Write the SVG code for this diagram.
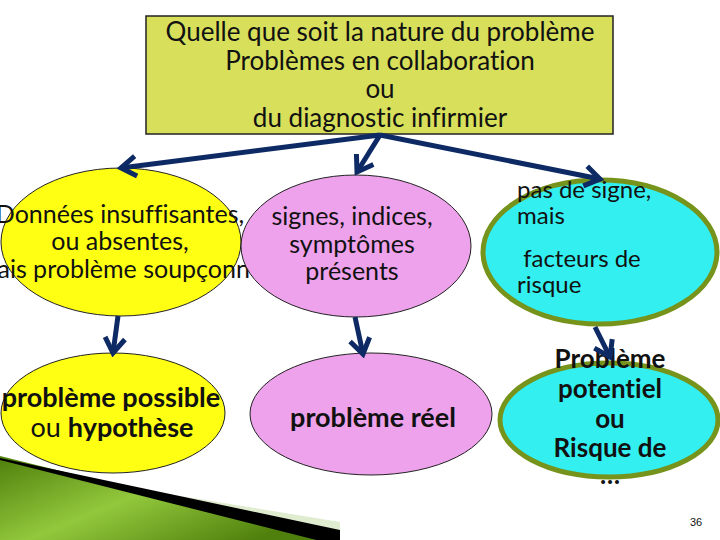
<svg xmlns="http://www.w3.org/2000/svg" width="720" height="540" viewBox="0 0 720 540">
<style>
text{font-family:Lato,"Open Sans","Liberation Sans",sans-serif;fill:#111;font-variant-ligatures:none;}
.t{font-size:26px;text-anchor:middle;}
.m{font-size:25px;text-anchor:middle;}
.l{font-size:24px;}
.b{font-size:27px;font-weight:bold;text-anchor:middle;}
.p{font-size:26px;}
.yel{fill:#ffff14;stroke:#222;stroke-width:1;}
.pnk{fill:#eea2ec;stroke:#222;stroke-width:1;}
.cyn{fill:#33eff0;stroke:#76931c;stroke-width:5;}
.con{stroke:#0e2a64;stroke-width:5;fill:none;marker-end:url(#ah);}
</style>
<defs>
<marker id="ah" markerUnits="userSpaceOnUse" viewBox="0 0 26 26" markerWidth="26" markerHeight="26" refX="22" refY="13" orient="auto">
<path d="M7,3 L22,13 L7,23" fill="none" stroke="#0e2a64" stroke-width="5" stroke-linejoin="miter"/>
</marker>
<linearGradient id="gr" x1="0" y1="0" x2="1" y2="0.6">
<stop offset="0" stop-color="#4f7f0c"/>
<stop offset="0.5" stop-color="#92c83c"/>
<stop offset="1" stop-color="#4f7f0c"/>
</linearGradient>
</defs>
<rect width="720" height="540" fill="#fff"/>
<g id="decor">
<polygon points="0,456 340,540 0,540" fill="url(#gr)"/>
<polygon points="120,486 340,522 340,532 120,489" fill="#dfeccf"/>
<polygon points="0,458 340,530 340,546 0,460" fill="#000"/>
</g>
<g id="top">
<rect x="146" y="16" width="467" height="118" fill="#d7df5b" stroke="#222" stroke-width="1.5"/>
<text class="t" x="380" y="41">Quelle que soit la nature du problème</text>
<text class="t" x="380" y="70">Problèmes en collaboration</text>
<text class="t" x="380" y="98">ou</text>
<text class="t" x="380" y="127">du diagnostic infirmier</text>
</g>
<g id="donnees">
<ellipse class="yel" cx="121" cy="242" rx="120" ry="74"/>
<text class="m" x="120" y="223">Données insuffisantes,</text>
<text class="m" x="120" y="250">ou absentes,</text>
<text class="m" x="120" y="278">mais problème soupçonné</text>
</g>
<g id="signes">
<ellipse class="pnk" cx="356" cy="246" rx="115" ry="71"/>
<text class="m" x="352" y="225">signes, indices,</text>
<text class="m" x="352" y="253">symptômes</text>
<text class="m" x="352" y="280">présents</text>
</g>
<g id="facteurs">
<ellipse class="cyn" cx="600" cy="252" rx="117" ry="72"/>
<text class="l" x="517" y="198">pas de signe,</text>
<text class="l" x="517" y="224">mais</text>
<text class="l" x="517" y="267" xml:space="preserve"> facteurs de</text>
<text class="l" x="517" y="293">risque</text>
</g>
<g id="possible">
<ellipse class="yel" cx="113" cy="413" rx="112" ry="60"/>
<text class="b" x="111" y="407">problème possible</text>
<text class="b" x="112" y="437"><tspan font-weight="normal">ou </tspan>hypothèse</text>
</g>
<g id="reel">
<ellipse class="pnk" cx="371" cy="414" rx="121" ry="61"/>
<text class="b" x="373" y="427">problème réel</text>
</g>
<g id="potentiel">
<ellipse class="cyn" cx="609" cy="420" rx="109" ry="57"/>
<text class="b p" x="610" y="368">Problème</text>
<text class="b p" x="610" y="398">potentiel</text>
<text class="b p" x="610" y="428">ou</text>
<text class="b p" x="610" y="457">Risque de</text>
<text class="b p" x="610" y="484">…</text>
</g>
<g id="connectors">
<path class="con" d="M380,135 L121,168"/>
<path class="con" d="M380,135 L357,172"/>
<path class="con" d="M380,135 L600,179"/>
<path class="con" d="M118,316 L113,353"/>
<path class="con" d="M355,317 L363,354"/>
<path class="con" d="M595,327 L610,357"/>
</g>
<text x="696" y="526" font-size="11" text-anchor="middle" style="font-family:'Liberation Sans',sans-serif">36</text>
</svg>
